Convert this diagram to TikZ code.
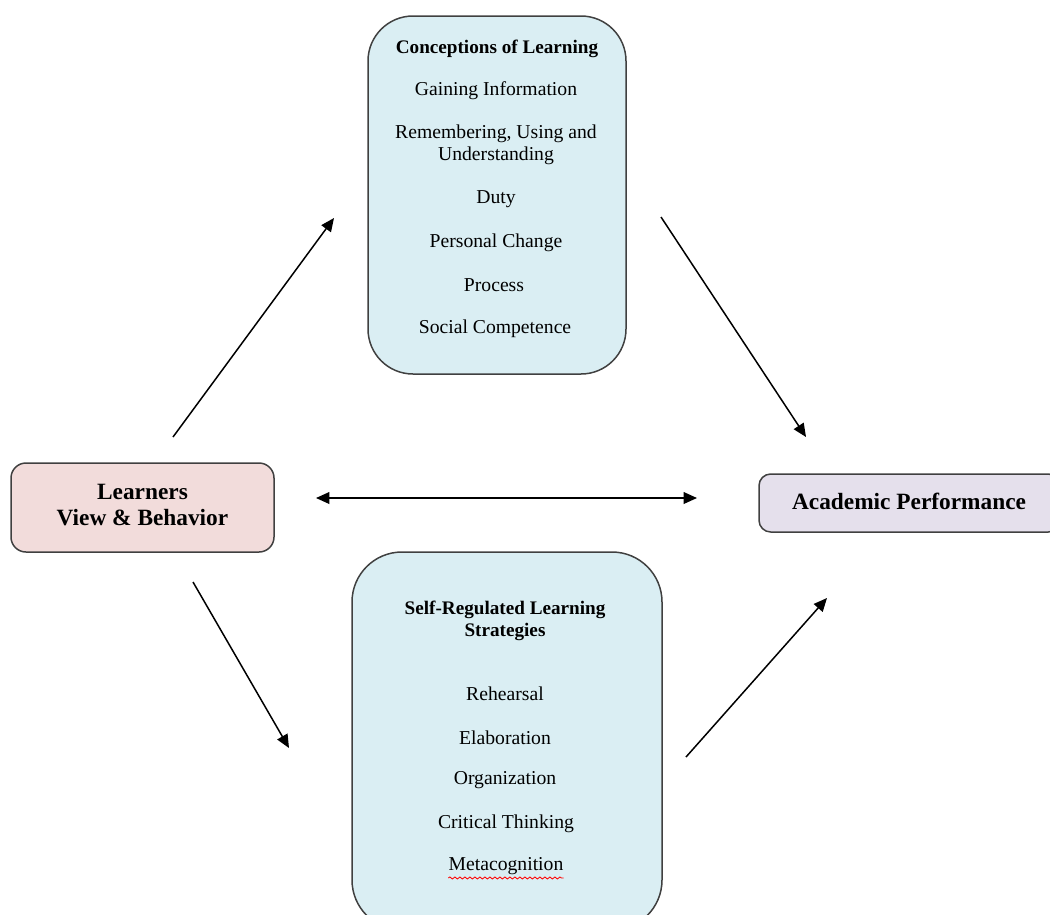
\documentclass[tikz,border=0pt]{standalone}
\usepackage{fontspec}
\setmainfont{Liberation Serif}
\usetikzlibrary{arrows.meta,decorations.pathmorphing}
\definecolor{boxblue}{HTML}{DAEEF3}
\definecolor{boxpink}{HTML}{F2DCDB}
\definecolor{boxlilac}{HTML}{E5E0EC}
\definecolor{edgegray}{HTML}{404040}
\tikzset{
  panel/.style={draw=edgegray, line width=0.9pt, inner sep=0pt},
  txt/.style={inner sep=0pt, font=\fontsize{11.8}{13.5}\selectfont, align=center},
  ttl/.style={inner sep=0pt, font=\fontsize{11.5}{13.5}\selectfont\bfseries, align=center},
  big/.style={inner sep=0pt, font=\fontsize{14}{16}\selectfont\bfseries, align=center},
  link/.style={line width=0.9pt, -{Triangle[length=8pt,width=7pt]}},
  dlink/.style={line width=0.9pt, {Triangle[length=8pt,width=7pt]}-{Triangle[length=8pt,width=7pt]}}
}
\begin{document}
\begin{tikzpicture}[x=0.6pt,y=-0.6pt]
\useasboundingbox (0,0) rectangle (1050,914);
\clip (0,0) rectangle (1050,914);
% boxes
\node[panel, fill=boxblue, rounded corners=27pt, minimum width=154.8pt, minimum height=214.8pt] (conc) at (497,195) {};
\node[panel, fill=boxblue, rounded corners=30pt, minimum width=186pt, minimum height=226.8pt] (srl) at (507,741) {};
\node[panel, fill=boxpink, rounded corners=9pt, minimum width=157.8pt, minimum height=53.4pt] (learn) at (142.5,507.5) {};
\node[panel, fill=boxlilac, rounded corners=7pt, minimum width=180.6pt, minimum height=34.8pt] (acad) at (909.5,503) {};
% texts top
\node[ttl] (c0) at (497,49) {Conceptions of Learning};
\node[txt] (c1) at (496,91) {Gaining Information};
\node[txt] (c2) at (496,145) {Remembering, Using and\\Understanding};
\node[txt] (c3) at (496,199) {Duty};
\node[txt] (c4) at (496,243) {Personal Change};
\node[txt] (c5) at (494,285) {Process};
\node[txt] (c6) at (495,329) {Social Competence};
% texts bottom
\node[ttl] (s0) at (505,621) {Self-Regulated Learning\\Strategies};
\node[txt] (s1) at (505,694) {Rehearsal};
\node[txt] (s2) at (505,738) {Elaboration};
\node[txt] (s3) at (505,780) {Organization};
\node[txt] (s4) at (506,824) {Critical Thinking};
\node[txt] (s5) at (506,866) {Metacognition};
\draw[red, line width=0.5pt, decorate, decoration={snake, amplitude=0.6pt, segment length=3pt}] ([yshift=-1.8pt]s5.south west) -- ([yshift=-1.8pt]s5.south east);
% side boxes text
\node[big] (l0) at (142.5,505) {Learners\\View \& Behavior};
\node[big] (a0) at (909,501) {Academic Performance};
% arrow ends
\coordinate (a1s) at (173,437); \coordinate (a1e) at (334,218);
\coordinate (a2s) at (661,217); \coordinate (a2e) at (806,437);
\coordinate (a3s) at (316,498); \coordinate (a3e) at (697,498);
\coordinate (a4s) at (193,582); \coordinate (a4e) at (289,748);
\coordinate (a5s) at (686,757); \coordinate (a5e) at (827,598);
\draw[link] (a1s) -- (a1e);
\draw[link] (a2s) -- (a2e);
\draw[dlink] (a3s) -- (a3e);
\draw[link] (a4s) -- (a4e);
\draw[link] (a5s) -- (a5e);
\end{tikzpicture}
\end{document}
